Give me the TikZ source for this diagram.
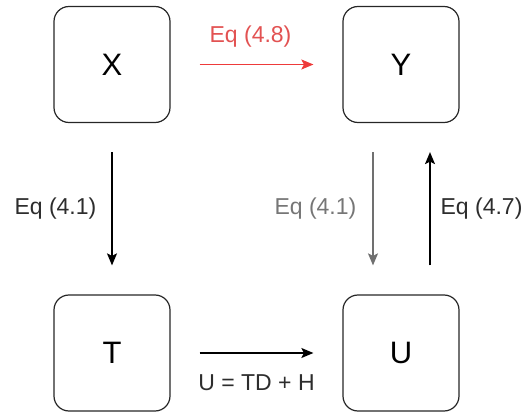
\documentclass[tikz,border=0pt]{standalone}
\usepackage{fontspec}
\setmainfont{Liberation Sans}
\usetikzlibrary{arrows.meta}
\definecolor{eqred}{RGB}{226,82,82}
\definecolor{arrred}{RGB}{238,58,58}
\definecolor{eqgray}{RGB}{118,118,118}
\definecolor{arrgray}{RGB}{112,112,112}
\definecolor{eqblack}{RGB}{45,45,45}

\begin{document}
\begin{tikzpicture}[x=1pt, y=-1pt, >={Stealth[length=12pt,width=10pt,inset=2.5pt]},
    varbox/.style={draw=black!85, line width=1.2pt, rounded corners=15pt,
        minimum size=116pt, inner sep=0pt, font=\fontsize{31}{36}\selectfont},
    eqarrow/.style={->, line width=1.3pt, shorten <=29pt, shorten >=29pt},
    eqlabel/.style={inner sep=0pt, font=\fontsize{23}{27}\selectfont}]
        \useasboundingbox (0,0) rectangle (523,412);
        % ==== BOXES ====
        \node[varbox] (boxX) at (112,64.5) {X};
        \node[varbox] (boxY) at (401,64.5) {Y};
        \node[varbox] (boxT) at (112,353) {T};
        \node[varbox] (boxU) at (401,353) {U};
        % ==== TOP AND BOTTOM ARROWS ====
        \draw[eqarrow, arrred] (boxX) -- (boxY)
            node[eqlabel, midway, above=17pt, xshift=-6pt, text=eqred] {Eq (4.8)};
        \draw[eqarrow, black] (boxT) -- (boxU)
            node[eqlabel, midway, below=21pt, text=eqblack] {U = TD + H};
        % ==== VERTICAL ARROWS ====
        \draw[eqarrow, black] (boxX) -- (boxT)
            node[eqlabel, midway, left=15pt, text=eqblack] {Eq (4.1)};
        \draw[eqarrow, arrgray] ([xshift=-28pt]boxY.south) -- ([xshift=-28pt]boxU.north)
            node[eqlabel, midway, left=16pt, text=eqgray] {Eq (4.1)};
        \draw[eqarrow, black] ([xshift=29pt]boxU.north) -- ([xshift=29pt]boxY.south)
            node[eqlabel, midway, right=10pt, text=eqblack] {Eq (4.7)};
\end{tikzpicture}
\end{document}
